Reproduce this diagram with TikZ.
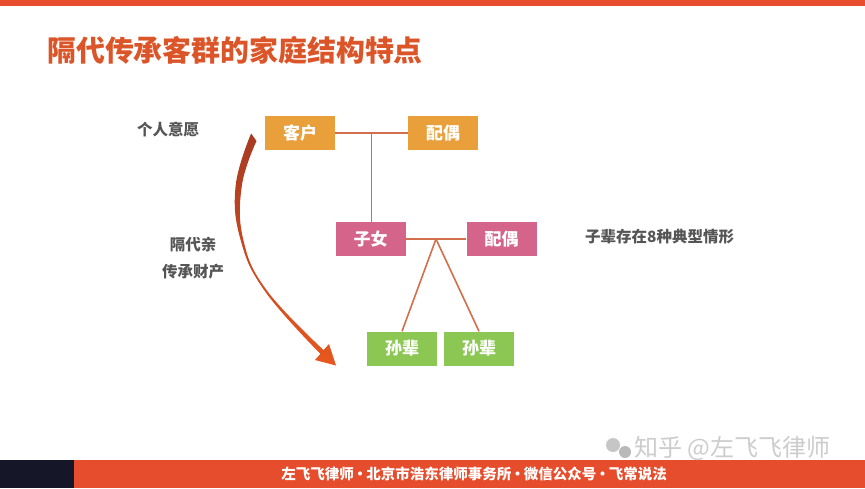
\documentclass[tikz,border=0pt]{standalone}
\usepackage{fontspec}
\setmainfont{Noto Sans CJK SC}
\usetikzlibrary{calc}
\definecolor{barorange}{HTML}{E64D2D}
\definecolor{darknavy}{HTML}{151728}
\definecolor{titlecol}{HTML}{DC5529}
\definecolor{boxorange}{HTML}{E9A03B}
\definecolor{boxpink}{HTML}{D5648B}
\definecolor{boxgreen}{HTML}{8CC653}
\definecolor{linecol}{HTML}{D46F4B}
\definecolor{labelgray}{HTML}{555555}
\definecolor{arrowtop}{HTML}{A63A22}
\definecolor{arrowbot}{HTML}{E8571F}
\tikzset{
  box/.style={minimum width=70pt, minimum height=34pt, inner sep=0pt, text=white, font=\bfseries\fontsize{17}{17}\selectfont},
  obox/.style={box, fill=boxorange},
  pbox/.style={box, fill=boxpink},
  gbox/.style={box, fill=boxgreen},
  conn/.style={draw=linecol, line width=1.6pt},
  lbl/.style={text=labelgray, font=\bfseries\fontsize{15.5}{15.5}\selectfont, inner sep=0pt}
}
\begin{document}
\begin{tikzpicture}[x=1pt, y=-1pt]
\useasboundingbox (0,0) rectangle (865,488);
\fill[white] (0,0) rectangle (865,488);
% bars
\fill[barorange] (0,0) rectangle (865,6);
\fill[barorange] (74,460) rectangle (865,488);
\fill[darknavy] (0,460) rectangle (74,488);
% title
\node[anchor=west, inner sep=0pt, text=titlecol, font=\bfseries\fontsize{28.9}{28.9}\selectfont] (title) at (47,50) {隔代传承客群的家庭结构特点};
% boxes
\node[obox] (client) at (300,133) {客户};
\node[obox] (spouse1) at (443,133) {配偶};
\node[pbox] (child) at (370.5,239) {子女};
\node[pbox] (spouse2) at (501.5,239) {配偶};
\node[gbox] (gc1) at (402,348.5) {孙辈};
\node[gbox] (gc2) at (479,348.5) {孙辈};
% connectors
\coordinate (m1) at ($(client.east)!0.5!(spouse1.west)$);
\coordinate (m2) at ($(child.east)!0.5!(spouse2.west)$);
\draw[conn] (client.east) -- (spouse1.west);
\draw[conn] (m1) -- (m1 |- child.north);
\draw[conn] (child.east) -- (spouse2.west);
\draw[conn] (m2) -- (gc1.north);
\draw[conn] (m2) -- (gc2.north);
% labels
\node[lbl, anchor=west] (l1) at (137,130) {个人意愿};
\node[lbl] (l2) at (193,245) {隔代亲};
\node[lbl] (l3) at (193,272) {传承财产};
\node[lbl, anchor=west] (l4) at (585,237) {子辈存在8种典型情形};
% curved tapered arrow
\shade[top color=arrowtop, bottom color=arrowbot]
  plot[smooth, tension=0.7] coordinates {(251.1,133.5) (235.6,186) (240.7,240.3) (265.2,291.6) (320.4,353.9)}
  -- (315,360) -- (336,365.5) -- (329,344)
  -- plot[smooth, tension=0.7] coordinates {(323.6,350.1) (266.8,290.4) (243.3,239.7) (241.8,186) (256.5,141)} -- cycle;
% footer
\node[text=white, font=\bfseries\fontsize{14.5}{14.5}\selectfont, inner sep=0pt] (footer) at (474,474) {左飞飞律师\hspace{-1pt}•\hspace{-1pt}北京市浩东律师事务所\hspace{-1pt}•\hspace{-1pt}微信公众号\hspace{-1pt}•\hspace{-1pt}飞常说法};
% watermark
\fill[gray!45] (613,445) circle (7pt);
\fill[gray!55] (625,452) circle (6pt);
\node[anchor=west, inner sep=0pt, text=gray!40, font=\fontsize{24}{24}\selectfont] (wm) at (634,448) {知乎 @左飞飞律师};
\end{tikzpicture}
\end{document}
